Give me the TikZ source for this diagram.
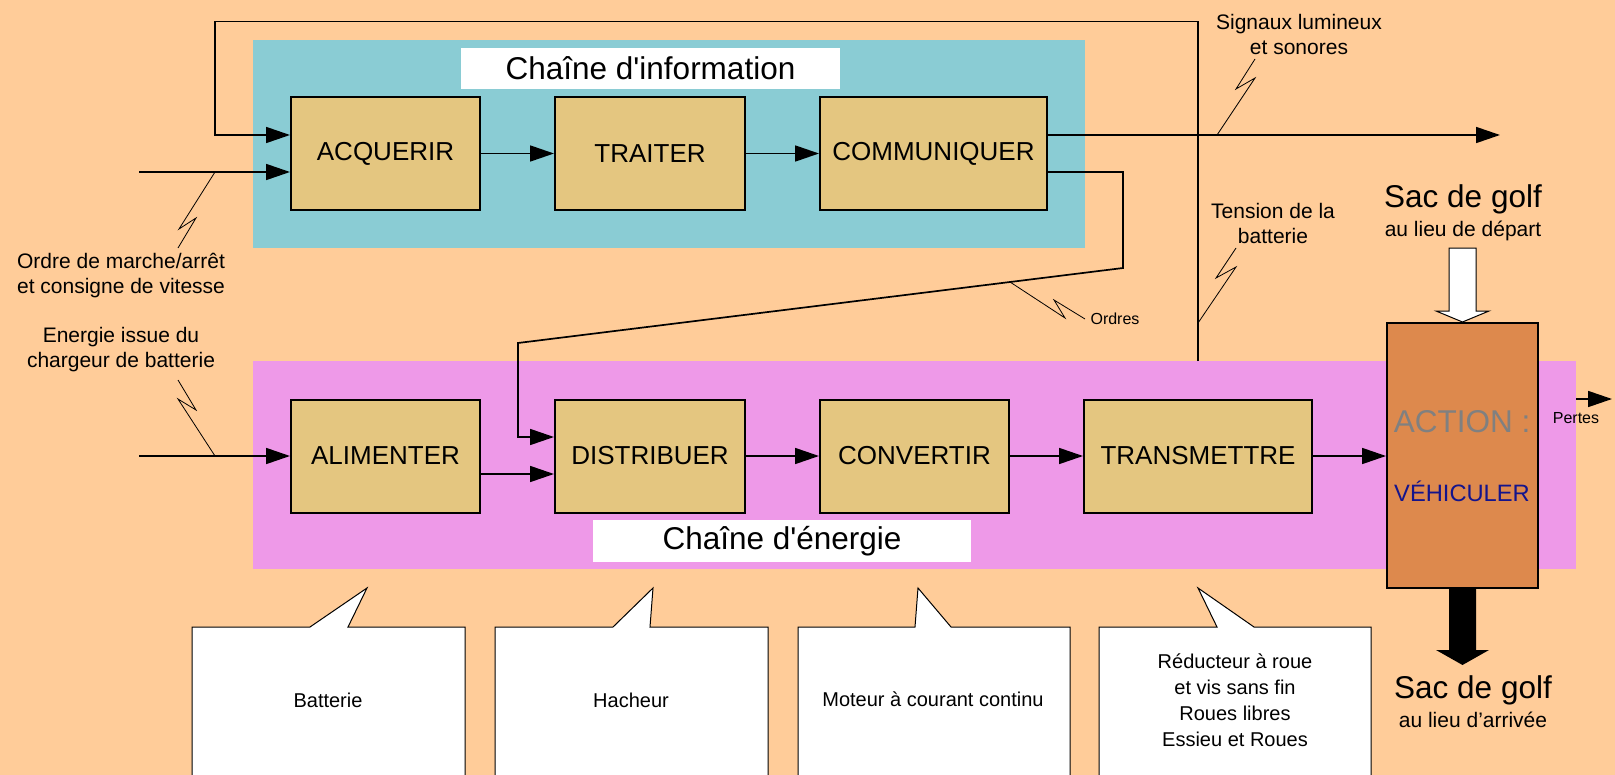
\documentclass[tikz,border=0pt]{standalone}
\usepackage{fontspec}
\setmainfont{Liberation Sans}
\usetikzlibrary{arrows.meta}

\definecolor{peach}{RGB}{255,204,153}
\definecolor{infoblue}{RGB}{138,204,212}
\definecolor{energypink}{RGB}{238,153,232}
\definecolor{boxtan}{RGB}{228,198,128}
\definecolor{actorange}{RGB}{221,137,77}
\definecolor{actnavy}{RGB}{20,20,140}

\begin{document}
\begin{tikzpicture}[x=0.5pt, y=-0.5pt,
    fn/.style={draw, line width=1pt, fill=boxtan, minimum height=56.5pt, inner sep=0pt, font=\fontsize{13}{15.6}\selectfont},
    flow/.style={line width=0.85pt, -{Triangle[length=12pt, width=8pt]}},
    wire/.style={line width=0.85pt},
    bolt/.style={line width=0.4pt},
    lbl/.style={align=center, inner sep=0pt, font=\fontsize{10.5}{12.5}\selectfont},
    tinylbl/.style={inner sep=0pt, font=\fontsize{8}{10}\selectfont},
    chaintitle/.style={fill=white, inner sep=0pt, font=\fontsize{15.75}{18}\selectfont},
    bubble/.style={fill=white, draw=black, line width=0.5pt},
    bubbletext/.style={align=center, inner sep=0pt, font=\fontsize{10}{13}\selectfont}]
  \useasboundingbox (0,0) rectangle (1615,775);
  \fill[peach] (0,0) rectangle (1615,775);
  \fill[infoblue] (253,40) rectangle (1085,248);
  \fill[energypink] (253,361) rectangle (1576,569);
  \node[chaintitle, minimum width=189.5pt, minimum height=20.5pt] (infotitle) at (650.5,68.5) {Chaîne d\textquotesingle information};
  \node[chaintitle, minimum width=189pt, minimum height=21pt] (nrjtitle) at (782,541) {Chaîne d\textquotesingle énergie};

  % callouts under the energy chain
  \path[bubble] (192,775) -- (192,627) -- (310,627) -- (367,588) -- (348,627) -- (465,627) -- (465,775);
  \path[bubble] (495,775) -- (495,627) -- (613,627) -- (653,588) -- (650,627) -- (768,627) -- (768,775);
  \path[bubble] (798,775) -- (798,627) -- (915,627) -- (918,588) -- (951,627) -- (1070,627) -- (1070,775);
  \path[bubble] (1099,775) -- (1099,627) -- (1217,627) -- (1198,588) -- (1254,627) -- (1371,627) -- (1371,775);
  \node[bubbletext] (batt) at (328,700) {Batterie};
  \node[bubbletext] (hach) at (631,700) {Hacheur};
  \node[bubbletext] (mot) at (933,699) {Moteur à courant continu};
  \node[bubbletext] (red) at (1235,700) {Réducteur à roue\\et vis sans fin\\Roues libres\\Essieu et Roues};

  % function blocks
  \node[fn, minimum width=94.5pt] (acq) at (385.5,153.5) {ACQUERIR};
  \node[fn, minimum width=95pt] (trt) at (650,153.5) {TRAITER};
  \node[fn, minimum width=113.5pt] (com) at (933.5,153.5) {COMMUNIQUER};
  \node[fn, minimum width=94.5pt] (ali) at (385.5,456) {ALIMENTER};
  \node[fn, minimum width=95pt] (dis) at (650,456) {DISTRIBUER};
  \node[fn, minimum width=94.5pt] (cnv) at (914.5,456) {CONVERTIR};
  \node[fn, minimum width=114pt] (trm) at (1198,456) {TRANSMETTRE};
  \node[draw, line width=1pt, fill=actorange, minimum width=75.5pt, minimum height=132.5pt, inner sep=0pt] (act) at (1462.5,455.5) {};
  \node[inner sep=0pt, text=gray, font=\fontsize{15.75}{18}\selectfont] (actname) at (1462,422) {ACTION :};
  \node[inner sep=0pt, text=actnavy, font=\fontsize{11.85}{14}\selectfont] (actverb) at (1462,491) {VÉHICULER};

  % free ends
  \coordinate (ordin) at (139,172);
  \coordinate (nrjin) at (139,456);
  \coordinate (sigout) at (1500,135);
  \coordinate (tapA) at (1198,361);
  \coordinate (loopL) at (215,21.5);
  \coordinate (ordA) at (1123,268);
  \coordinate (ordB) at (518,343);
  \coordinate (pertA) at (1576,399);
  \coordinate (pertB) at (1612,399);

  % connectors
  \draw[flow] (tapA) |- (loopL) |- (acq.west |- 0,135);
  \draw[flow] (ordin) -- (acq.west |- ordin);
  \draw[flow] (acq.east) -- (trt.west);
  \draw[flow] (trt.east) -- (com.west);
  \draw[flow] (com.east |- sigout) -- (sigout);
  \draw[flow] (com.east |- 0,172) -| (ordA) -- (ordB) |- (dis.west |- 0,437);
  \draw[flow] (nrjin) -- (ali.west);
  \draw[flow] (ali.east |- 0,474) -- (dis.west |- 0,474);
  \draw[flow] (dis.east) -- (cnv.west);
  \draw[flow] (cnv.east) -- (trm.west);
  \draw[flow] (trm.east) -- (trm.east -| act.west);
  \draw[flow] (pertA) -- (pertB);

  % lightning marks
  \draw[bolt] (215,172) -- (179,229) -- (196,218) -- (178,248);
  \draw[bolt] (215,456) -- (178,399) -- (196,410) -- (178,380);
  \draw[bolt] (1217,135) -- (1255,78) -- (1236,89) -- (1255,59);
  \draw[bolt] (1198,323) -- (1236,267) -- (1216,278) -- (1236,248);
  \draw[bolt] (1010,282) -- (1065,318) -- (1054,300) -- (1085,319);

  % labels
  \node[lbl] (ordtxt) at (121,276) {Ordre de marche/arrêt\\et consigne de vitesse};
  \node[lbl] (nrjtxt) at (121,350) {Energie issue du\\chargeur de batterie};
  \node[lbl] (sigtxt) at (1299,34) {Signaux lumineux\\et sonores};
  \node[lbl] (tentxt) at (1273,223) {Tension de la\\batterie};
  \node[tinylbl] (ordres) at (1115,319) {Ordres};
  \node[tinylbl] (pertes) at (1576,418) {Pertes};

  % golf bag in and out
  \filldraw[fill=white, draw=black, line width=0.5pt] (1449,248) -- (1476,248) -- (1476,311) -- (1489,311) -- (act.north) -- (1436,311) -- (1449,311) -- cycle;
  \fill[black] (1449,588) -- (1476,588) -- (1476,650) -- (1489,650) -- (1462.5,665) -- (1436,650) -- (1449,650) -- cycle;
  \node[inner sep=0pt, anchor=base, font=\fontsize{15.75}{18}\selectfont] (bagin) at (1463,207) {Sac de golf};
  \node[inner sep=0pt, anchor=base, font=\fontsize{10.5}{12.5}\selectfont] (baginsub) at (1463,236) {au lieu de départ};
  \node[inner sep=0pt, anchor=base, font=\fontsize{15.75}{18}\selectfont] (bagout) at (1473,698) {Sac de golf};
  \node[inner sep=0pt, anchor=base, font=\fontsize{10.5}{12.5}\selectfont] (bagoutsub) at (1473,727) {au lieu d'arrivée};
\end{tikzpicture}
\end{document}
